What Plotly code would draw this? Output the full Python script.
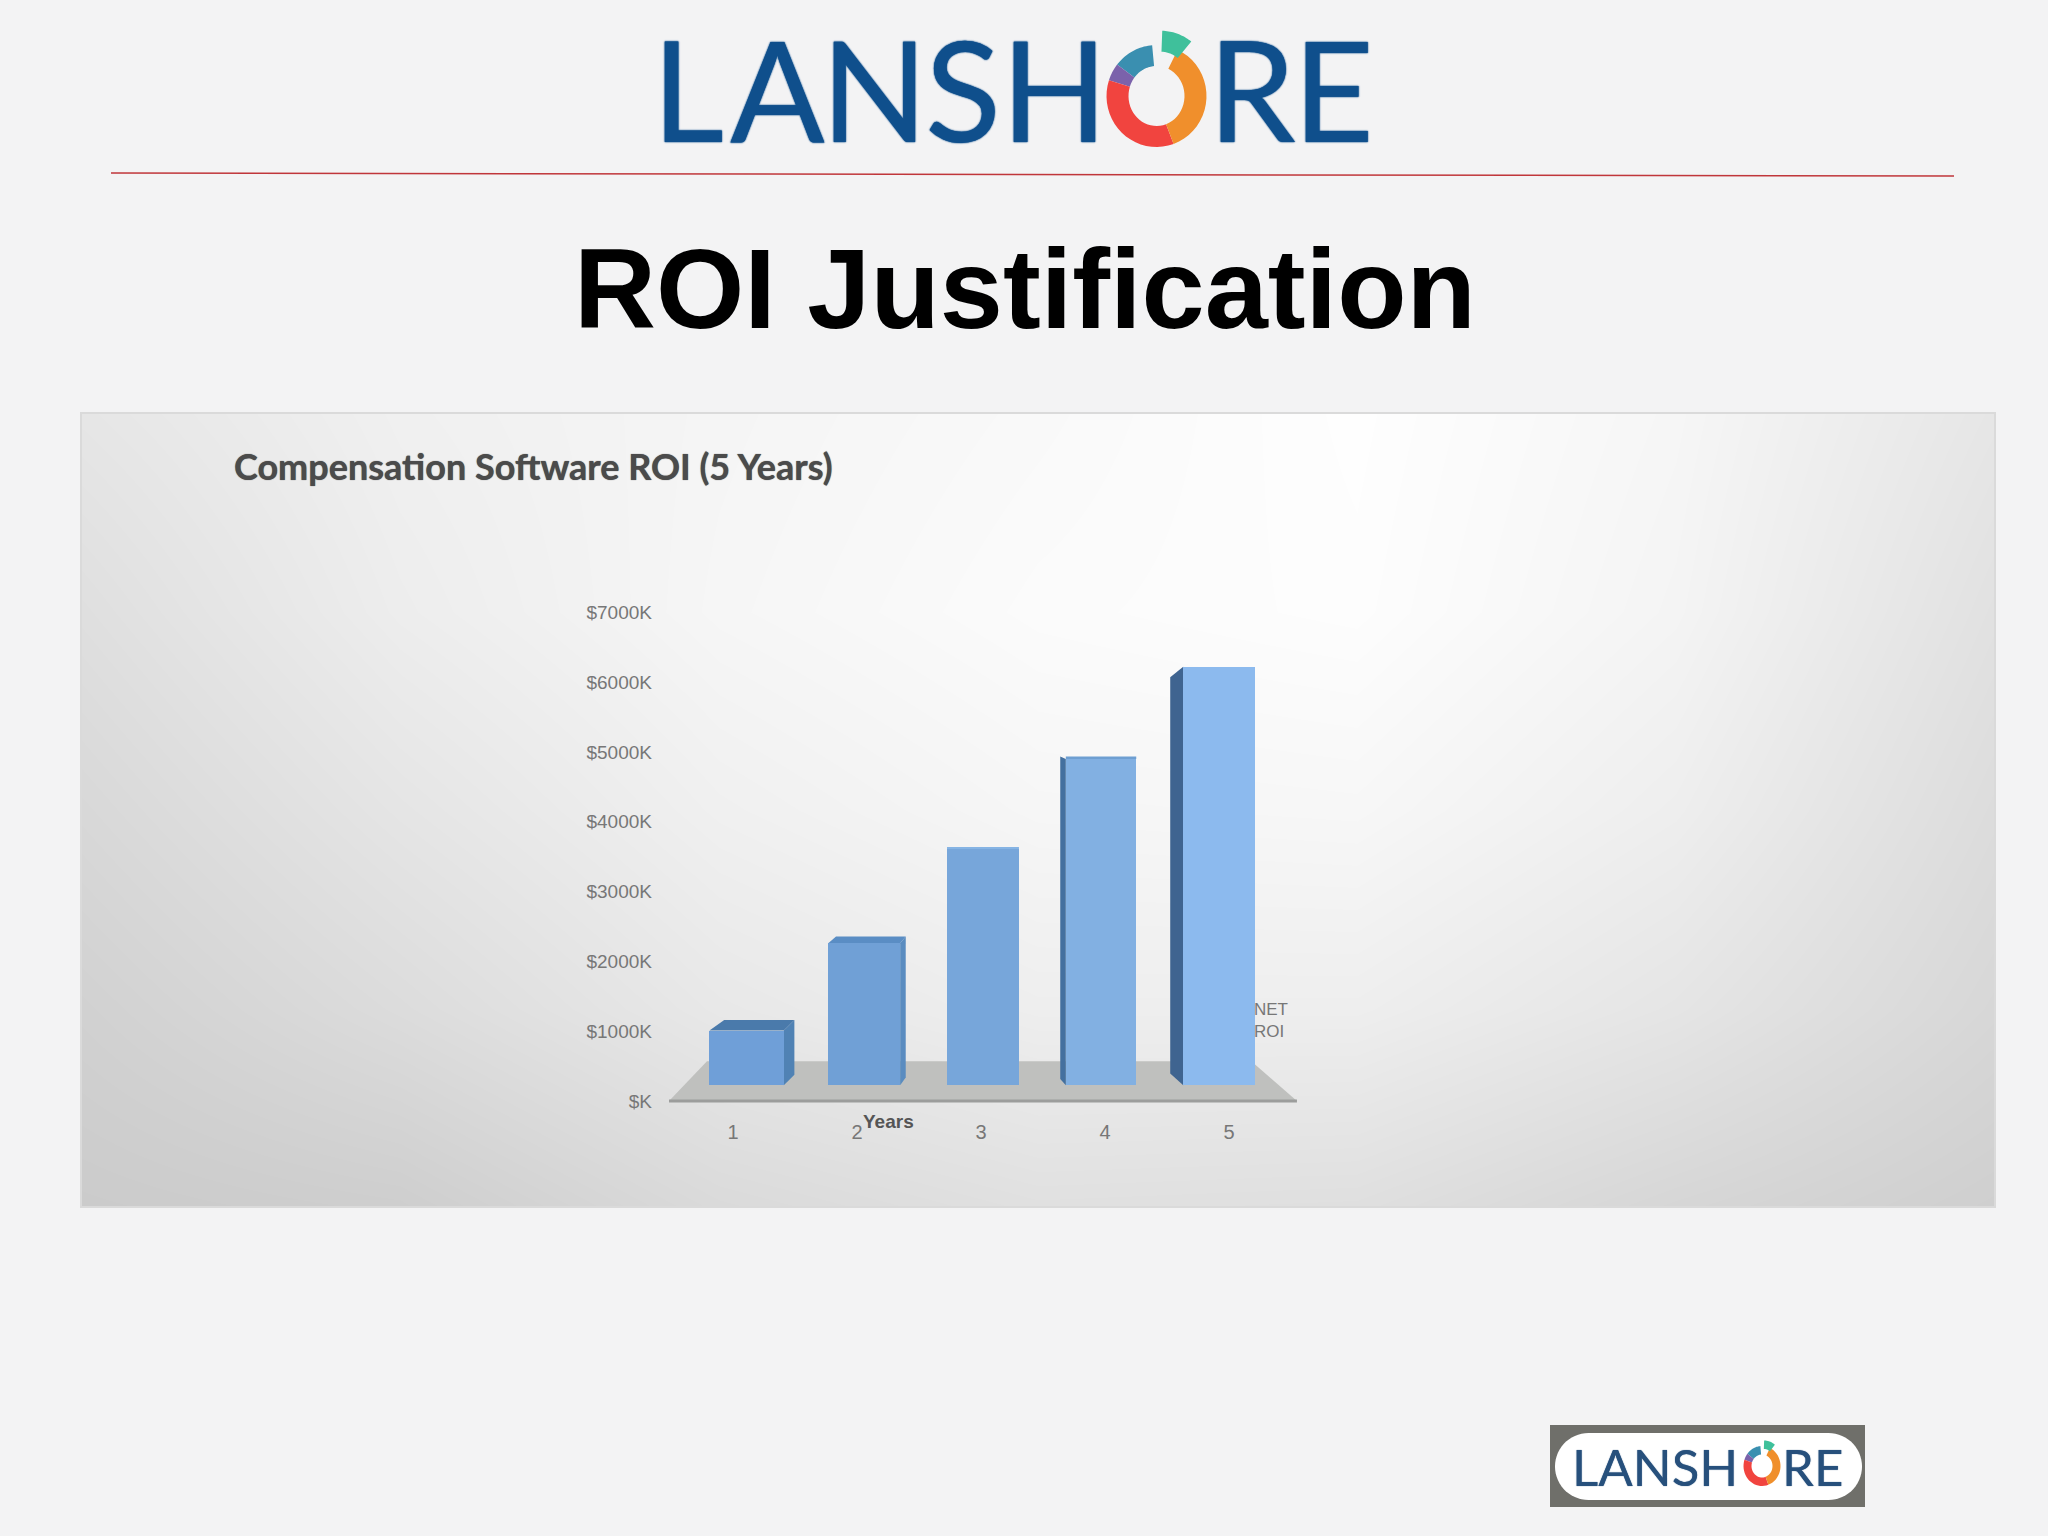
import math
import plotly.graph_objects as go

W, H = 2048, 1536

# ---- chart data ----
years = [1, 2, 3, 4, 5]
net_roi = [1010, 2260, 3610, 4900, 6220]
y_ticks = [0, 1000, 2000, 3000, 4000, 5000, 6000, 7000]
y_tick_labels = ["$K", "$1000K", "$2000K", "$3000K", "$4000K", "$5000K", "$6000K", "$7000K"]
chart_title = "Compensation Software ROI (5 Years)"
slide_title = "ROI Justification"

# ---- pseudo-3D look of the bars ----
bar_centres = [1.11, 2.058, 3.016, 3.968, 4.921]
bar_widths = [0.6, 0.58, 0.58, 0.568, 0.58]
floor_value = 225
side_dx = [0.085, 0.045, 0.0, -0.045, -0.105]   # horizontal shift of the back edge
top_rise = [150, 95, 30, 35, -150]              # back top edge vs front top edge
foot_rise = [150, 110, 0, 90, 170]              # back foot vs front foot
front_colors = ["#6f9fd8", "#70a0d6", "#77a6da", "#82b0e2", "#8cbaee"]
side_colors = ["#5082b4", "#5a8cc0", "#6a9ace", "#44709f", "#3f6490"]
top_colors = ["#4a7aab", "#5a8dc4", "#86b4e4", "#6e9fd2", "#8ab8e6"]
floor_x = [0.484, 5.548, 5.18, 0.79]
floor_y = [0, 0, 570, 570]

# ---- panel gradient, grey levels ----
panel_rows = [
    [0xcb, 0xce, 0xda, 0xe0, 0xdf, 0xd6, 0xcf],
    [0xd1, 0xdc, 0xe8, 0xee, 0xee, 0xe5, 0xd7],
    [0xd8, 0xe5, 0xf0, 0xf6, 0xf7, 0xee, 0xdc],
    [0xdf, 0xed, 0xf6, 0xfb, 0xfd, 0xf4, 0xe1],
    [0xe6, 0xf0, 0xf5, 0xf9, 0xfe, 0xf6, 0xe6],
]

# ---- axis geometry ----
PANEL = (81, 413, 1995, 1207)
PX_PER_YEAR = 124.0
YEAR1_PX = 733.0
PX_PER_VALUE = 0.0698
ZERO_PX = 1101.0
x_range = [1 + (PANEL[0] - YEAR1_PX) / PX_PER_YEAR, 1 + (PANEL[2] - YEAR1_PX) / PX_PER_YEAR]
y_range = [(ZERO_PX - PANEL[3]) / PX_PER_VALUE, (ZERO_PX - PANEL[1]) / PX_PER_VALUE]


def px(x):
    return x / W


def py(y):
    return 1 - y / H


fig = go.Figure()

n_c, n_r = len(panel_rows[0]), len(panel_rows)
fig.add_trace(go.Heatmap(
    x=[x_range[0] + (x_range[1] - x_range[0]) * i / (n_c - 1) for i in range(n_c)],
    y=[y_range[0] + (y_range[1] - y_range[0]) * j / (n_r - 1) for j in range(n_r)],
    z=panel_rows, zmin=0, zmax=255, zsmooth="best", showscale=False, hoverinfo="skip",
    colorscale=[[0, "rgb(0,0,0)"], [1, "rgb(255,255,255)"]],
))

# floor
fig.add_trace(go.Scatter(x=floor_x + floor_x[:1], y=floor_y + floor_y[:1], mode="lines", fill="toself",
                         fillcolor="#bfc0be", line=dict(width=0), hoverinfo="skip", showlegend=False))
fig.add_trace(go.Scatter(x=floor_x[:2], y=floor_y[:2], mode="lines", line=dict(color="#9c9d9c", width=3),
                         hoverinfo="skip", showlegend=False))

# side and top faces
for i, c in enumerate(bar_centres):
    half = bar_widths[i] / 2
    dx, tr, fr, v = side_dx[i], top_rise[i], foot_rise[i], net_roi[i]
    edge = c + half if dx > 0 else c - half
    if dx != 0:
        fig.add_trace(go.Scatter(
            x=[edge, edge + dx, edge + dx, edge, edge],
            y=[floor_value, floor_value + fr, v + tr, v, floor_value],
            mode="lines", fill="toself", fillcolor=side_colors[i], line=dict(width=0),
            hoverinfo="skip", showlegend=False))
    if tr > 0:
        fig.add_trace(go.Scatter(
            x=[c - half, c + half, c + half + max(dx, 0), c - half + max(dx, 0) * 1.4, c - half],
            y=[v, v, v + tr, v + tr, v],
            mode="lines", fill="toself", fillcolor=top_colors[i], line=dict(width=0),
            hoverinfo="skip", showlegend=False))

# front faces, on an overlaying pair of axes so they sit above floor and side faces
fig.add_trace(go.Bar(
    x=bar_centres, y=[v - floor_value for v in net_roi], base=floor_value, width=bar_widths,
    marker=dict(color=front_colors, line=dict(width=0)), name="NET ROI", showlegend=False,
    xaxis="x2", yaxis="y2",
))

annotations = []


def text(s, x, y, size, color, family, bold=False, xanchor="center", shadow=None):
    font = dict(size=size, color=color, family=family)
    if shadow:
        font["shadow"] = shadow
    annotations.append(dict(
        text=f"<b>{s}</b>" if bold else s, x=px(x), y=py(y), xref="paper", yref="paper",
        xanchor=xanchor, yanchor="middle", showarrow=False, align="left", font=font))


SANS = "Liberation Sans"
text(slide_title, 1025, 288, 113.5, "#000000", SANS, bold=True)
text(chart_title, 232, 466, 36, "#4b4b4b", "Lato", bold=True, xanchor="left",
     shadow="0 0 1px #4b4b4b")
text("Years", 888, 1121, 19, "#555555", SANS, bold=True)
text("NET<br>ROI", 1252, 1020, 17, "#777777", SANS, xanchor="left")

# main logo letters
BLUE = "#0f4f8c"
HEAVY = "0 0 1.5px #0f4f8c, 0 0 1.5px #0f4f8c"
for ch, x in zip("LANSHRE", [688, 777, 874, 963, 1054, 1252, 1333]):
    text(ch, x, 88, 140, BLUE, "Lato", shadow=HEAVY)

# small logo text
DARK = "#27507c"
text("LANSH", 1655, 1466, 51, DARK, "Lato", shadow="0 0 1px #27507c")
text("RE", 1812, 1466, 51, DARK, "Lato", shadow="0 0 1px #27507c")

shapes = [
    dict(type="rect", xref="paper", yref="paper", x0=px(PANEL[0]), x1=px(PANEL[2]), y0=py(PANEL[1]), y1=py(PANEL[3]),
         line=dict(color="#dadada", width=2), layer="above"),
    dict(type="line", xref="paper", yref="paper", x0=px(111), y0=py(173), x1=px(1954), y1=py(176),
         line=dict(color="#c0363a", width=1.5)),
    dict(type="rect", xref="paper", yref="paper", x0=px(1550), x1=px(1865), y0=py(1425), y1=py(1507),
         fillcolor="#6f6f6a", line=dict(width=0), layer="below"),
]


def pill(x0, y0, x1, y1):
    r = (y1 - y0) / 2
    pts = []
    for k in range(0, 31):
        a = math.pi / 2 + math.pi * k / 30
        pts.append((x0 + r + r * math.cos(a), (y0 + y1) / 2 - r * math.sin(a)))
    for k in range(0, 31):
        a = -math.pi / 2 + math.pi * k / 30
        pts.append((x1 - r + r * math.cos(a), (y0 + y1) / 2 - r * math.sin(a)))
    return "M" + "L".join(f"{px(a):.5f},{py(b):.5f}" for a, b in pts) + "Z"


shapes.append(dict(type="path", xref="paper", yref="paper", path=pill(1555, 1433, 1862, 1500),
                   fillcolor="#ffffff", line=dict(width=0)))

RING_SEGMENTS = [
    (-5, -52, "#3a8fb0", 0, 0),
    (-52, -72, "#7b62ab", 0, 0),
    (-72, -200, "#f1443f", 0, 0),
    (-200, -335, "#f08f2c", 0, 0),
    (2, 38, "#3fc09b", 0.08, -0.28),
]


def ring(cx, cy, rx, ry, irx, iry):
    out = []
    for a0, a1, col, ox, oy in RING_SEGMENTS:
        pts = []
        for k in range(21):
            a = math.radians(a0 + (a1 - a0) * k / 20)
            pts.append((cx + ox * rx + rx * math.sin(a), cy + oy * ry - ry * math.cos(a)))
        for k in range(21):
            a = math.radians(a1 + (a0 - a1) * k / 20)
            pts.append((cx + ox * rx + irx * math.sin(a), cy + oy * ry - iry * math.cos(a)))
        path = "M" + "L".join(f"{px(p):.5f},{py(q):.5f}" for p, q in pts) + "Z"
        out.append(dict(type="path", xref="paper", yref="paper", path=path, fillcolor=col, line=dict(width=0)))
    return out


shapes += ring(1156.5, 96, 50, 51, 28, 30)
shapes += ring(1762, 1466, 18.5, 20, 10.5, 11.5)

domain_x = [px(PANEL[0]), px(PANEL[2])]
domain_y = [py(PANEL[3]), py(PANEL[1])]

fig.update_layout(
    width=W, height=H, margin=dict(l=0, r=0, t=0, b=0),
    paper_bgcolor="#f3f3f4", plot_bgcolor="rgba(0,0,0,0)", showlegend=False,
    bargap=0, annotations=annotations, shapes=shapes,
    xaxis=dict(domain=domain_x, range=x_range, anchor="free", position=py(1118),
               tickmode="array", tickvals=years, ticktext=[str(v) for v in years],
               tickfont=dict(family=SANS, size=20, color="#777777"),
               showgrid=False, zeroline=False, showline=False, ticks=""),
    yaxis=dict(domain=domain_y, range=y_range, anchor="free", position=px(652),
               tickmode="array", tickvals=y_ticks, ticktext=y_tick_labels,
               tickfont=dict(family=SANS, size=19, color="#777777"),
               showgrid=False, zeroline=False, showline=False, ticks=""),
    xaxis2=dict(overlaying="x", domain=domain_x, range=x_range, visible=False),
    yaxis2=dict(overlaying="y", domain=domain_y, range=y_range, visible=False),
)

fig.write_html("out.html", config=dict(displayModeBar=False),
               post_script="document.body.style.margin='0';")
